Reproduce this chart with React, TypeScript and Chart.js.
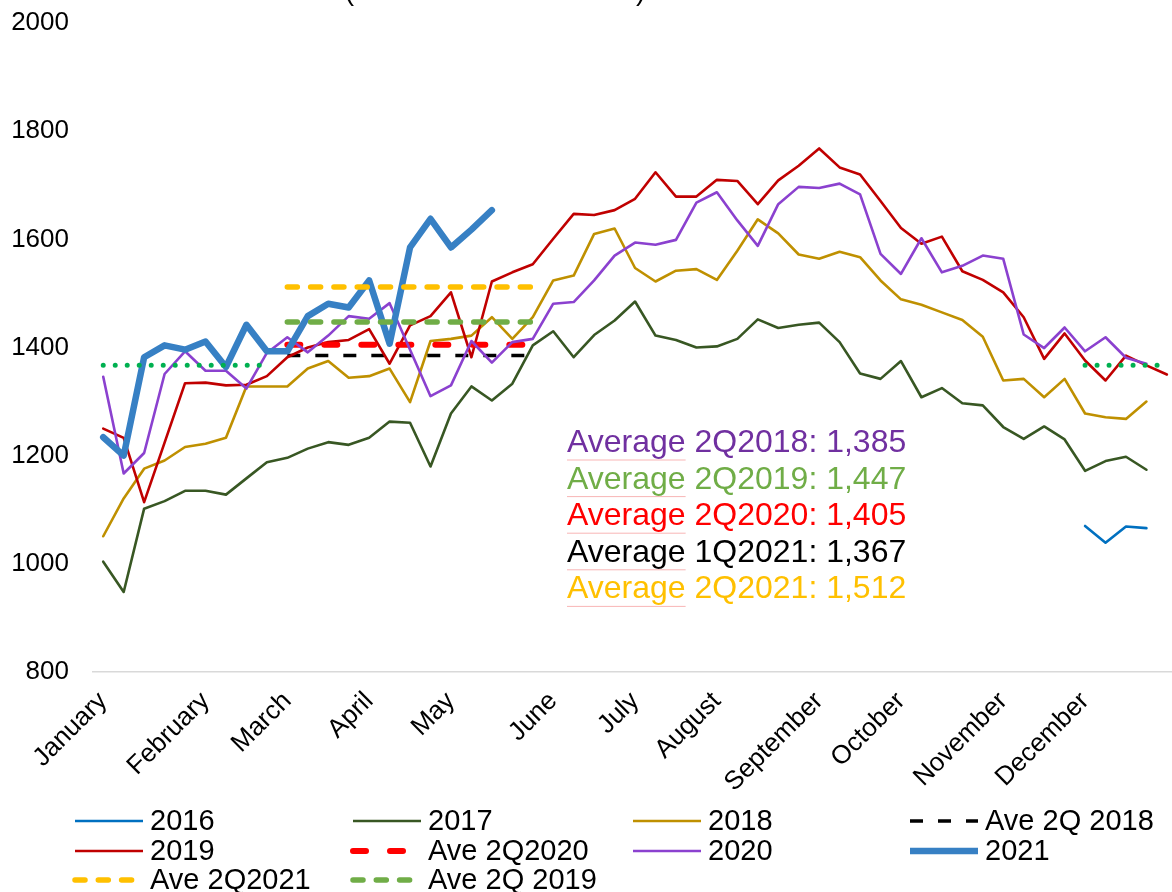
import React, { useEffect, useRef } from 'react';
import { Chart, registerables } from 'chart.js';

Chart.register(...registerables);

// ---------- data ----------
const monthLabels = ['January', 'February', 'March', 'April', 'May', 'June', 'July', 'August', 'September', 'October', 'November', 'December'];
const monthWeeks = [0, 5, 9, 13, 17, 22, 26, 30, 35, 39, 44, 48];
const yTicks = [800, 1000, 1200, 1400, 1600, 1800, 2000];

const s2016Start = 48;
const s2016 = [1070, 1039, 1069, 1066];

const s2017 = [1004, 948, 1102, 1116, 1135, 1135, 1128, 1158, 1188, 1196, 1213, 1225, 1220, 1233, 1263, 1261, 1180, 1278, 1328, 1302, 1333, 1404, 1430, 1382, 1423, 1450, 1485, 1422, 1414, 1400, 1402, 1416, 1452, 1436, 1442, 1446, 1410, 1352, 1342, 1375, 1308, 1325, 1297, 1293, 1253, 1231, 1254, 1230, 1172, 1190, 1198, 1174];

const s2018 = [1051, 1121, 1176, 1191, 1216, 1222, 1233, 1328, 1328, 1328, 1361, 1375, 1344, 1347, 1361, 1299, 1412, 1416, 1422, 1456, 1416, 1456, 1524, 1533, 1610, 1620, 1547, 1522, 1542, 1545, 1525, 1579, 1637, 1611, 1572, 1564, 1577, 1567, 1524, 1489, 1479, 1465, 1451, 1420, 1339, 1342, 1308, 1342, 1278, 1271, 1268, 1300];

const s2019 = [1250, 1233, 1114, 1224, 1334, 1335, 1330, 1331, 1347, 1382, 1400, 1410, 1414, 1434, 1370, 1441, 1458, 1502, 1382, 1522, 1539, 1554, 1601, 1647, 1645, 1654, 1675, 1724, 1679, 1679, 1710, 1708, 1665, 1709, 1736, 1768, 1733, 1720, 1671, 1621, 1592, 1605, 1541, 1525, 1502, 1456, 1379, 1426, 1376, 1339, 1385, 1367, 1350];

const s2020 = [1346, 1167, 1205, 1351, 1393, 1357, 1357, 1324, 1390, 1419, 1391, 1422, 1458, 1453, 1482, 1396, 1310, 1330, 1412, 1372, 1410, 1416, 1481, 1484, 1524, 1570, 1594, 1590, 1599, 1668, 1687, 1635, 1588, 1665, 1697, 1695, 1703, 1683, 1573, 1536, 1602, 1539, 1551, 1570, 1564, 1424, 1399, 1437, 1393, 1419, 1381, 1370];

const s2021 = [1234, 1200, 1382, 1404, 1396, 1411, 1364, 1442, 1393, 1393, 1458, 1481, 1474, 1524, 1407, 1585, 1638, 1585, 1618, 1654];

const avg2Q2018 = 1385;
const avg2Q2019 = 1447;
const avg2Q2020 = 1405;
const avg1Q2021 = 1367;
const avg2Q2021 = 1512;
const avg2QWeeks = [9, 21];
const avg1QWeeks = [[0, 8], [48, 52]];

const annotationTexts = ['Average 2Q2018: 1,385', 'Average 2Q2019: 1,447', 'Average 2Q2020: 1,405', 'Average 1Q2021: 1,367', 'Average 2Q2021: 1,512'];
const annotationColors = ['#7030A0', '#70AD47', '#FF0000', '#000000', '#FFC000'];
const titleText = '(in thousands of tonnes)';

// ---------- helpers ----------
const FONT = '"Liberation Sans", Arial, Helvetica, sans-serif';
const pts = (vals: number[], start = 0) => vals.map((v, i) => ({ x: start + i, y: v }));
const flat = (v: number, [a, b]: number[]) => [{ x: a, y: v }, { x: b, y: v }];

const solid = (label: string, data: any[], color: string, width = 2.6) => ({
  label, data, borderColor: color, backgroundColor: color, borderWidth: width,
  pointRadius: 0, tension: 0, borderJoinStyle: 'round', borderCapStyle: 'round', fill: false,
});
const dashed = (label: string, data: any[], color: string, width: number, dash: number[], cap: string) => ({
  label, data, borderColor: color, backgroundColor: color, borderWidth: width, borderDash: dash,
  pointRadius: 0, tension: 0, borderCapStyle: cap, fill: false,
});

const legendCols = [75, 353, 633, 910];
const legendRows = [821, 851, 880];

const legendPlugin = {
  id: 'gridLegend',
  afterDraw(chart: any) {
    const ctx = chart.ctx;
    ctx.save();
    ctx.font = `29px ${FONT}`;
    ctx.textBaseline = 'middle';
    ctx.textAlign = 'left';
    let slot = 0;
    chart.data.datasets.forEach((ds: any) => {
      if (ds.hideInLegend) return;
      const col = slot % 4;
      const row = Math.floor(slot / 4);
      slot++;
      const x = legendCols[col];
      const y = legendRows[row];
      ctx.save();
      ctx.strokeStyle = ds.borderColor;
      ctx.lineWidth = ds.borderWidth;
      ctx.lineCap = ds.borderDash ? ds.borderCapStyle : 'butt';
      ctx.setLineDash(ds.borderDash || []);
      ctx.beginPath();
      ctx.moveTo(x, y);
      ctx.lineTo(x + 68, y);
      ctx.stroke();
      ctx.restore();
      ctx.fillStyle = '#000';
      ctx.fillText(ds.label, x + 75, y + 1);
    });
    ctx.restore();
  },
};

const textPlugin = {
  id: 'notes',
  afterDraw(chart: any) {
    const ctx = chart.ctx;
    ctx.save();
    ctx.font = `32px ${FONT}`;
    ctx.textBaseline = 'alphabetic';
    ctx.textAlign = 'left';
    const x0 = 567;
    annotationTexts.forEach((t, i) => {
      const y = 452 + i * 36.6;
      ctx.fillStyle = annotationColors[i];
      ctx.fillText(t, x0, y);
      const w = ctx.measureText('Average').width;
      ctx.strokeStyle = 'rgba(240,90,90,0.45)';
      ctx.lineWidth = 1;
      ctx.beginPath();
      ctx.moveTo(x0, y + 8);
      ctx.lineTo(x0 + w, y + 8);
      ctx.stroke();
    });
    ctx.font = `28px ${FONT}`;
    ctx.fillStyle = '#000';
    ctx.textAlign = 'center';
    ctx.fillText(titleText, 495, 0);
    ctx.restore();
  },
};

export default function App() {
  const ref = useRef<HTMLCanvasElement | null>(null);

  useEffect(() => {
    if (!ref.current) return;
    const datasets: any[] = [
      solid('2016', pts(s2016, s2016Start), '#0070C0'),
      solid('2017', pts(s2017), '#385723'),
      solid('2018', pts(s2018), '#BF9000'),
      dashed('Ave 2Q 2018', flat(avg2Q2018, avg2QWeeks), '#000000', 3.5, [13, 15], 'butt'),
      solid('2019', pts(s2019), '#C00000'),
      dashed('Ave 2Q2020', flat(avg2Q2020, avg2QWeeks), '#FF0000', 6, [13, 24], 'round'),
      solid('2020', pts(s2020), '#8B41CF'),
      solid('2021', pts(s2021), '#3780C4', 6.5),
      dashed('Ave 2Q2021', flat(avg2Q2021, avg2QWeeks), '#FFC000', 5.5, [10, 13.3], 'round'),
      dashed('Ave 2Q 2019', flat(avg2Q2019, avg2QWeeks), '#70AD47', 5.5, [10, 13.3], 'round'),
      {
        ...dashed('Average 1Q2021', [...flat(avg1Q2021, avg1QWeeks[0]), { x: 28, y: null }, ...flat(avg1Q2021, avg1QWeeks[1])], '#00B050', 5, [0, 12], 'round'),
        hideInLegend: true,
        spanGaps: false,
      },
    ];
    datasets.forEach((d, i) => { d.order = datasets.length - i; });

    const chart = new Chart(ref.current, {
      type: 'line',
      data: { datasets },
      options: {
        animation: false,
        responsive: true,
        maintainAspectRatio: false,
        parsing: true,
        layout: { padding: { top: 0, left: 0, right: 0, bottom: 0 } },
        plugins: { legend: { display: false }, tooltip: { enabled: false }, title: { display: false } },
        scales: {
          x: {
            type: 'linear',
            min: -0.5,
            max: 52.25,
            grid: { display: false, drawTicks: false },
            border: { display: true, color: '#D9D9D9', width: 1.5 },
            afterBuildTicks: (scale: any) => { scale.ticks = monthWeeks.map((v) => ({ value: v })); },
            afterFit: (scale: any) => { scale.height = 220; scale.paddingLeft = 0; scale.paddingRight = 0; },
            ticks: {
              autoSkip: false,
              minRotation: 45,
              maxRotation: 45,
              padding: 14,
              color: '#000',
              font: { family: FONT, size: 26 },
              callback: (v: any) => { const k = monthWeeks.indexOf(Number(v)); return k >= 0 ? monthLabels[k] : ''; },
            },
          },
          y: {
            type: 'linear',
            min: yTicks[0],
            max: yTicks[yTicks.length - 1],
            grid: { display: false, drawTicks: false },
            border: { display: false },
            afterBuildTicks: (scale: any) => { scale.ticks = yTicks.map((v) => ({ value: v })); },
            afterFit: (scale: any) => { scale.width = 93; scale.paddingTop = 23; scale.paddingBottom = 0; },
            ticks: {
              padding: 24,
              color: '#000',
              font: { family: FONT, size: 26 },
              callback: (v: any) => String(v),
            },
          },
        },
      },
      plugins: [legendPlugin, textPlugin],
    });
    return () => chart.destroy();
  }, []);

  return (
    <div style={{ position: 'absolute', left: 0, top: 0, width: 1172, height: 892, background: '#fff' }}>
      <canvas ref={ref} />
    </div>
  );
}
